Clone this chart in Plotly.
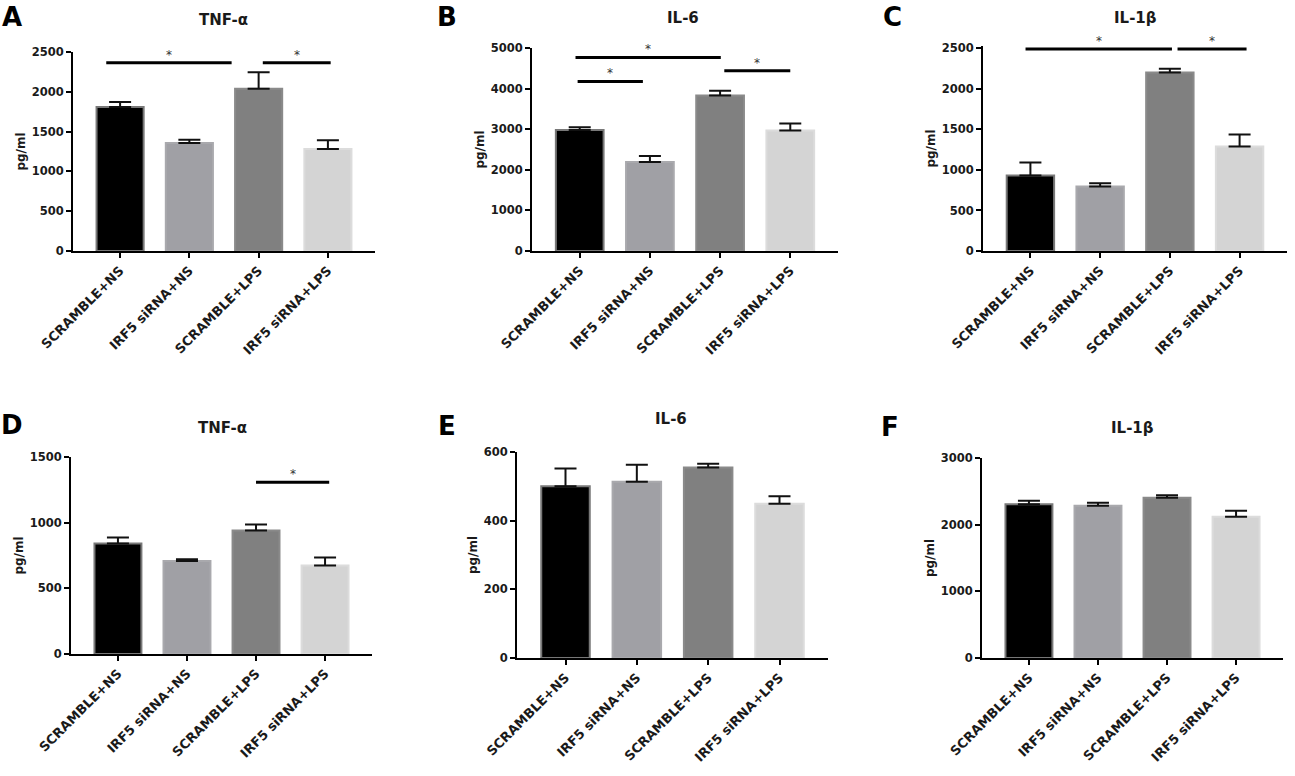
import plotly.graph_objects as go
from plotly.subplots import make_subplots

groups = ["SCRAMBLE+NS", "IRF5 siRNA+NS", "SCRAMBLE+LPS", "IRF5 siRNA+LPS"]

# mean and upper error (SEM), pg/ml
a_mean = [1810, 1357, 2039, 1281]
a_err = [62, 42, 206, 109]
b_mean = [2982, 2191, 3830, 2965]
b_err = [66, 148, 116, 173]
c_mean = [932, 796, 2204, 1289]
c_err = [160, 41, 46, 148]
d_mean = [842, 708, 941, 673]
d_err = [46, 13, 45, 61]
e_mean = [500, 513, 555, 449]
e_err = [52, 50, 11, 22]
f_mean = [2307, 2282, 2402, 2118]
f_err = [50, 45, 40, 90]

panel_titles = ["TNF-α", "IL-6", "IL-1β", "TNF-α", "IL-6", "IL-1β"]
panel_letters = ["A", "B", "C", "D", "E", "F"]
y_max = [2500, 5000, 2500, 1500, 600, 3000]
y_step = [500, 1000, 500, 500, 200, 1000]

# significance brackets: (from, to, height)
a_sig = [(-0.2, 1.61, 2366), (2.06, 3.04, 2366)]
b_sig = [(-0.06, 2.01, 4769), (-0.03, 0.9, 4176), (2.06, 3.0, 4440)]
c_sig = [(-0.07, 2.03, 2492), (2.11, 3.1, 2492)]
d_sig = [(2.0, 3.06, 1308)]
e_sig = []
f_sig = []

fills = ["#000000", "#a0a0a5", "#808080", "#d4d4d4"]
edges = ["#787878", "#a9a9ad", "#8a8a8a", "#dcdcdc"]

means = [a_mean, b_mean, c_mean, d_mean, e_mean, f_mean]
errs = [a_err, b_err, c_err, d_err, e_err, f_err]
sigs = [a_sig, b_sig, c_sig, d_sig, e_sig, f_sig]

W, H = 1295, 776
# plot boxes in pixels: left, right, top, bottom
boxes = [(73, 375, 52, 251), (532, 838, 48, 251), (983, 1287, 46, 251),
         (71, 372, 457, 654), (517, 828, 452, 658), (982, 1283, 458, 658)]
title_pos = [(223, 20), (683, 18), (1135, 18), (222, 428), (671, 419), (1132, 428)]
letter_pos = [(12, 17), (447, 17), (892, 17), (12, 425), (447, 426), (890, 427)]

font = "DejaVu Sans"
ink = "#1a1a1a"

fig = make_subplots(rows=2, cols=3)

for i in range(6):
    r, c = i // 3 + 1, i % 3 + 1
    fig.add_trace(go.Bar(
        x=groups, y=means[i], width=0.68,
        marker=dict(color=fills, line=dict(color=edges, width=2)),
        error_y=dict(type="data", array=errs[i], arrayminus=[0] * 4,
                     symmetric=False, color="#111111", thickness=2, width=11),
        showlegend=False,
    ), row=r, col=c)

    left, right, top, bottom = boxes[i]
    top_val = y_max[i] if i != 2 else 2530
    xa = "xaxis" if i == 0 else "xaxis%d" % (i + 1)
    ya = "yaxis" if i == 0 else "yaxis%d" % (i + 1)
    fig.update_layout({
        xa: dict(domain=[left / W, right / W], range=[-0.68, 3.68],
                 automargin=False,
                 showline=True, linecolor="black", linewidth=2,
                 ticks="outside", ticklen=5, tickwidth=2, tickcolor="black",
                 tickangle=-45, showgrid=False, zeroline=False,
                 tickfont=dict(family=font, size=13, color=ink, weight="bold")),
        ya: dict(domain=[1 - bottom / H, 1 - top / H], range=[0, top_val],
                 automargin=False,
                 tickvals=list(range(0, y_max[i] + 1, y_step[i])),
                 showline=True, linecolor="black", linewidth=2,
                 ticks="outside", ticklen=5, tickwidth=2, tickcolor="black",
                 showgrid=False, zeroline=False,
                 tickfont=dict(family=font, size=11.5, color=ink, weight="bold"),
                 title=dict(text="pg/ml", standoff=3,
                            font=dict(family=font, size=12, color=ink, weight="bold"))),
    })

    xr = "x" if i == 0 else "x%d" % (i + 1)
    yr = "y" if i == 0 else "y%d" % (i + 1)
    for x0, x1, h in sigs[i]:
        fig.add_shape(type="line", xref=xr, yref=yr, x0=x0, x1=x1, y0=h, y1=h,
                      line=dict(color="black", width=3))
        fig.add_annotation(xref=xr, yref=yr, x=(x0 + x1) / 2, y=h, text="*",
                           showarrow=False, yanchor="middle", yshift=8,
                           font=dict(family=font, size=12, color="#333333"))

    tx, ty = title_pos[i]
    fig.add_annotation(xref="paper", yref="paper", x=tx / W, y=1 - ty / H,
                       text=panel_titles[i], showarrow=False,
                       xanchor="center", yanchor="middle",
                       font=dict(family=font, size=15, color=ink, weight="bold"))
    lx, ly = letter_pos[i]
    fig.add_annotation(xref="paper", yref="paper", x=lx / W, y=1 - ly / H,
                       text=panel_letters[i], showarrow=False,
                       xanchor="center", yanchor="middle",
                       font=dict(family=font, size=26, color="#000000", weight="bold"))

fig.update_layout(
    template="none",
    width=W, height=H,
    margin=dict(l=0, r=0, t=0, b=0),
    paper_bgcolor="white", plot_bgcolor="white",
    bargap=0.3,
)

# drop the default page margin so the figure sits at the window's corner
fig.write_html("out.html", config={"displayModeBar": False},
               post_script="document.body.style.margin='0';")
